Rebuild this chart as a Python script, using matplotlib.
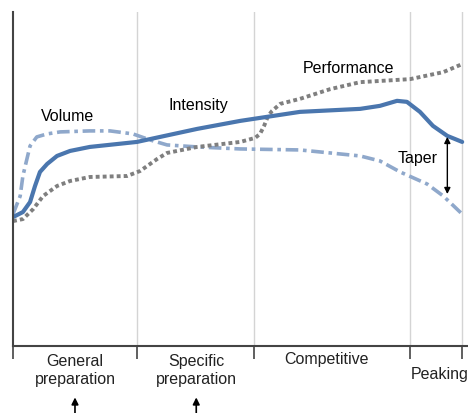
"""
Periodisation d'une saison : volume, intensite et performance.
"""
import matplotlib.pyplot as plt

plt.rcParams['font.family'] = ['Liberation Sans', 'DejaVu Sans']

# Temps relatif de la saison (0 = debut, 100 = fin)
phase_bounds = [0, 27.6, 53.7, 88.4, 100]
phase_labels = ["General\npreparation", "Specific\npreparation",
                "Competitive", "Peaking"]

intensity_x = [0, 0.45, 2.2, 3.8, 4.9, 6.0, 7.6, 9.8, 12.7, 17.1, 27.6,
               41.0, 50.6, 63.9, 77.3, 81.7, 85.5, 87.7, 90.6, 93.5, 96.7,
               100]
intensity_y = [38.6, 38.9, 40.1, 43.1, 47.9, 52.1, 54.5, 56.9, 58.4, 59.6,
               61.1, 65.0, 67.4, 70.1, 71.0, 71.9, 73.4, 73.1, 70.1, 65.9,
               62.9, 61.1]

volume_x = [0, 0.45, 1.6, 2.2, 3.1, 3.8, 5.3, 7.6, 10.5, 17.1, 21.6, 26.7,
            30.5, 34.3, 41.0, 50.6, 63.9, 77.3, 81.7, 86.2, 92.2, 95.8, 100]
volume_y = [39.5, 41.0, 44.9, 50.9, 56.0, 59.9, 62.6, 63.5, 64.1, 64.4, 64.4,
            63.5, 61.7, 60.2, 59.6, 59.0, 58.7, 56.9, 55.4, 52.1, 48.5, 44.9,
            39.5]

perf_x = [0, 2.2, 4.5, 6.7, 9.8, 12.7, 17.1, 25.4, 28.3, 32.1, 34.3, 41.0,
          50.6, 53.9, 55.0, 55.9, 56.8, 57.7, 59.5, 63.9, 70.6, 77.3, 88.4,
          95.8, 100]
perf_y = [37.4, 38.0, 41.0, 44.9, 47.9, 49.4, 50.6, 50.9, 52.4, 56.0, 57.8,
          59.6, 61.1, 62.3, 63.5, 65.9, 68.9, 70.4, 72.5, 74.0, 76.9, 79.0,
          79.9, 82.0, 84.4]

# Ecart du taper (intensite vs volume a la fin)
taper_x = 96.7
taper_top = 62.6
taper_bottom = 45.5

fig = plt.figure(figsize=(4.68, 4.14), dpi=100)
ax = fig.add_axes([13 / 468, 67 / 414, 455 / 468, 334 / 414])
ax.set_xlim(0, 101.3)
ax.set_ylim(0, 100)

# Lignes de separation des phases
for xb in phase_bounds[1:]:
    ax.axvline(xb, color='#d4d4d4', lw=1, zorder=0)

ax.plot(volume_x, volume_y, color='#8fa8cb', lw=2.6,
        linestyle=(0, (3.5, 1.3, 1, 1.3)), solid_joinstyle='round')
ax.plot(perf_x, perf_y, color='#7f7f7f', lw=2.8,
        linestyle=(0, (1, 0.8)), dash_capstyle='butt')
ax.plot(intensity_x, intensity_y, color='#4a76ae', lw=3.0,
        solid_capstyle='round', solid_joinstyle='round')

ax.text(12.2, 68.9, "Volume", ha='center', va='center', fontsize=11.5)
ax.text(41.2, 72.2, "Intensity", ha='center', va='center', fontsize=11.5)
ax.text(74.6, 83.5, "Performance", ha='center', va='center', fontsize=11.5)
ax.text(90.0, 56.3, "Taper", ha='center', va='center', fontsize=11.5)
ax.annotate("", xy=(taper_x, taper_top), xytext=(taper_x, taper_bottom),
            arrowprops=dict(arrowstyle='<|-|>', color='black', lw=1,
                            mutation_scale=9, shrinkA=0, shrinkB=0))

# Axes
for side in ['top', 'right']:
    ax.spines[side].set_visible(False)
ax.spines['left'].set_color('#444444')
ax.spines['left'].set_linewidth(1.5)
ax.spines['bottom'].set_color('#444444')
ax.spines['bottom'].set_linewidth(1.5)
ax.set_yticks([])
ax.set_xticks(phase_bounds)
ax.set_xticklabels([])
ax.tick_params(axis='x', direction='out', length=9.5, width=1.2,
               color='#444444')

# Noms des phases
label_pos = [(13.8, -6.9), (40.8, -6.9), (69.7, -3.6), (94.9, -8.1)]
for (lx, ly), lab in zip(label_pos, phase_labels):
    ax.text(lx, ly, lab, ha='center', va='center', fontsize=11.5,
            linespacing=1.25, clip_on=False, color='#222222')

# Fleches sous les phases de preparation
for lx in [13.8, 40.8]:
    ax.annotate("", xy=(lx, -15.4), xytext=(lx, -21.5),
                annotation_clip=False,
                arrowprops=dict(arrowstyle='-|>', color='black', lw=1.2,
                                mutation_scale=10, shrinkA=0, shrinkB=0))

fig.savefig("out.png", dpi=100)
